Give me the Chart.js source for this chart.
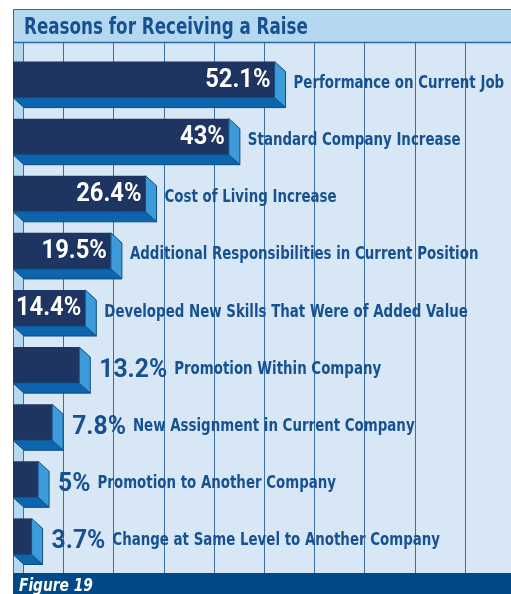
<!DOCTYPE html>
<html>
<head>
<meta charset="utf-8">
<script src="https://cdn.jsdelivr.net/npm/chart.js@4/dist/chart.umd.min.js"></script>
<style>
  html, body { margin: 0; padding: 0; background: #ffffff; }
  #wrap { width: 511px; height: 594px; position: relative; }
</style>
</head>
<body>
<div id="wrap"><canvas id="c" width="511" height="594"></canvas></div>
<script>
const chartTitle = "Reasons for Receiving a Raise";
const footerText = "Figure 19";
const categories = [
  "Performance on Current Job",
  "Standard Company Increase",
  "Cost of Living Increase",
  "Additional Responsibilities in Current Position",
  "Developed New Skills That Were of Added Value",
  "Promotion Within Company",
  "New Assignment in Current Company",
  "Promotion to Another Company",
  "Change at Same Level to Another Company"
];
const values = [52.1, 43, 26.4, 19.5, 14.4, 13.2, 7.8, 5, 3.7];
const valueLabels = ["52.1%", "43%", "26.4%", "19.5%", "14.4%", "13.2%", "7.8%", "5%", "3.7%"];
const gridTicks = [10, 20, 30, 40, 50, 60, 70, 80, 90];

const COND = '"DejaVu Sans Condensed", "Liberation Sans Narrow", "DejaVu Sans", sans-serif';
const NUM = 'Roboto, "Noto Sans", sans-serif';
const DX = 11, DY = 10;

// draw text horizontally condensed (still real text)
function condText(ctx, text, x, y, sx) {
  ctx.save();
  ctx.translate(x, y);
  ctx.scale(sx, 1);
  ctx.fillText(text, 0, 0);
  ctx.restore();
}

const decor = {
  id: 'decor',
  beforeDraw(chart) {
    const ctx = chart.ctx;
    const W = chart.width, H = chart.height;
    const L = 13, plotTop = 43, plotBottom = 573;
    ctx.save();
    ctx.fillStyle = '#ffffff';
    ctx.fillRect(0, 0, W, H);
    // title band
    ctx.fillStyle = '#b5d8f1';
    ctx.fillRect(L, 9, W - L, plotTop - 9);
    ctx.strokeStyle = '#2d6aa3';
    ctx.lineWidth = 1;
    ctx.beginPath();
    ctx.moveTo(L + 0.5, H); ctx.lineTo(L + 0.5, 9.5); ctx.lineTo(W, 9.5);
    ctx.stroke();
    // plot background
    ctx.fillStyle = '#d8e7f6';
    ctx.fillRect(L + 1, plotTop, W - L - 1, plotBottom - plotTop);
    // left wall
    ctx.fillStyle = '#b5d8f1';
    ctx.fillRect(L + 1, plotTop, DX - 1, plotBottom - plotTop);
    // separator under title
    ctx.strokeStyle = '#2d6aa3';
    ctx.lineWidth = 1.5;
    ctx.beginPath(); ctx.moveTo(L, plotTop - 0.5); ctx.lineTo(W, plotTop - 0.5); ctx.stroke();
    // gridlines
    const xs = chart.scales.x;
    ctx.strokeStyle = '#3b6f9f';
    ctx.lineWidth = 1;
    const gx = [xs.getPixelForValue(0) + DX - 1].concat(gridTicks.map(t => xs.getPixelForValue(t)));
    gx.forEach(x => {
      const px = Math.round(x) + 0.5;
      ctx.beginPath(); ctx.moveTo(px, plotTop); ctx.lineTo(px, plotBottom); ctx.stroke();
    });
    // title text
    ctx.fillStyle = '#175191';
    ctx.font = 'bold 23px ' + COND;
    ctx.textBaseline = 'alphabetic';
    ctx.textAlign = 'left';
    condText(ctx, chartTitle, 24, 34, 0.81);
    // footer band
    ctx.fillStyle = '#004b87';
    ctx.fillRect(L, plotBottom, W - L, H - plotBottom);
    ctx.fillStyle = '#ffffff';
    ctx.font = 'italic bold 17px ' + COND;
    condText(ctx, footerText, 19, 591, 0.9);
    ctx.restore();
  },
  afterDatasetsDraw(chart) {
    const ctx = chart.ctx;
    const meta = chart.getDatasetMeta(0);
    ctx.save();
    meta.data.forEach((bar, i) => {
      const p = bar.getProps(['x', 'y', 'base', 'height'], true);
      const x0 = p.base, x1 = p.x;
      const y0 = p.y - p.height / 2, y1 = p.y + p.height / 2;
      // bottom face
      ctx.fillStyle = '#0d66ad';
      ctx.beginPath();
      ctx.moveTo(x0, y1); ctx.lineTo(x1, y1); ctx.lineTo(x1 + DX, y1 + DY); ctx.lineTo(x0 + DX, y1 + DY);
      ctx.closePath(); ctx.fill();
      ctx.strokeStyle = '#0b4d86'; ctx.lineWidth = 1; ctx.stroke();
      // side face
      ctx.fillStyle = '#3c9bd8';
      ctx.beginPath();
      ctx.moveTo(x1, y0); ctx.lineTo(x1 + DX, y0 + DY); ctx.lineTo(x1 + DX, y1 + DY); ctx.lineTo(x1, y1);
      ctx.closePath(); ctx.fill(); ctx.stroke();
      // labels
      const v = values[i];
      const inside = v >= 14;
      ctx.textBaseline = 'middle';
      ctx.textAlign = 'left';
      let catX;
      if (inside) {
        ctx.font = 'bold 25px ' + NUM;
        ctx.fillStyle = '#ffffff';
        const w = ctx.measureText(valueLabels[i]).width * 0.95;
        condText(ctx, valueLabels[i], x1 - 4 - w, p.y + 1, 0.95);
        catX = x1 + DX + 8;
      } else {
        ctx.font = 'bold 26px ' + NUM;
        ctx.fillStyle = '#175191';
        const vx = x1 + DX + 9;
        condText(ctx, valueLabels[i], vx, p.y + 5, 0.95);
        catX = vx + ctx.measureText(valueLabels[i]).width * 0.95 + 7;
      }
      ctx.font = 'bold 17.5px ' + COND;
      ctx.fillStyle = '#175191';
      condText(ctx, categories[i], catX, p.y + 4, 0.85);
    });
    ctx.restore();
  }
};

new Chart(document.getElementById('c'), {
  type: 'bar',
  data: {
    labels: categories,
    datasets: [{
      data: values,
      backgroundColor: '#1e3562',
      borderWidth: 0,
      barPercentage: 36 / 57,
      categoryPercentage: 1
    }]
  },
  options: {
    indexAxis: 'y',
    responsive: false,
    animation: false,
    layout: { padding: { left: 13, top: 51, right: 0, bottom: 29 } },
    plugins: { legend: { display: false }, title: { display: false }, tooltip: { enabled: false } },
    scales: {
      x: { display: false, min: 0, max: 99.2, grid: { display: false } },
      y: { display: false, grid: { display: false } }
    }
  },
  plugins: [decor]
});
</script>
</body>
</html>
